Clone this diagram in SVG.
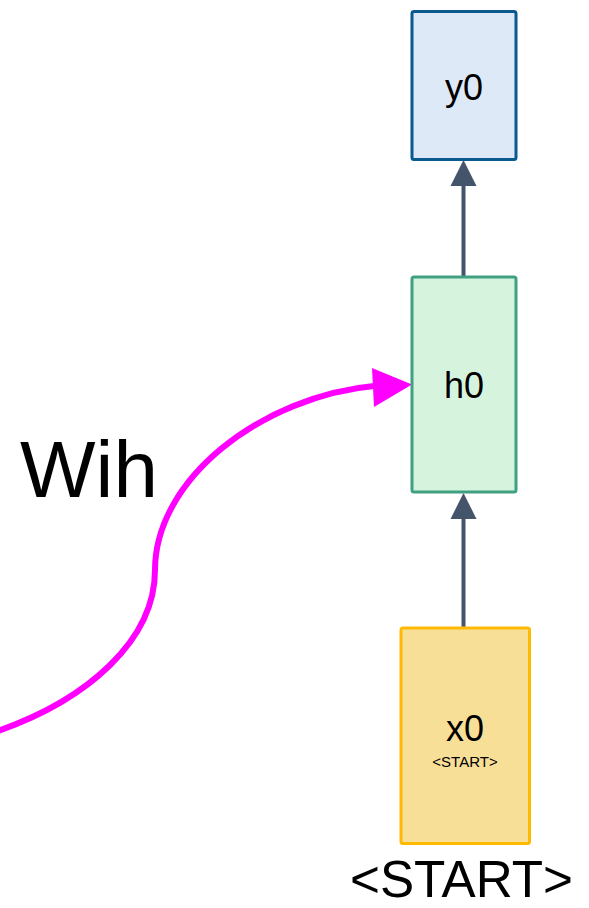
<svg xmlns="http://www.w3.org/2000/svg" width="589" height="908" viewBox="0 0 589 908">
<style>
text{font-family:"Liberation Sans",Arial,sans-serif;fill:#000;text-anchor:middle}
.lbl{font-size:36px}
.dark{stroke:#44546a;stroke-width:4;fill:none}
</style>
<rect width="589" height="908" fill="#fff"/>
<g id="connectors">
<line class="dark" x1="463.5" y1="277" x2="463.5" y2="184"/>
<polygon points="463.5,160 450.5,186 476.5,186" fill="#44546a"/>
<line class="dark" x1="463.5" y1="627" x2="463.5" y2="516"/>
<polygon points="463.5,493 450.5,519 476.5,519" fill="#44546a"/>
<path d="M -5 732 C 88 700 155 640 155 570 C 155 480 260 396 378 385.5" fill="none" stroke="#ff00ff" stroke-width="6"/>
<polygon points="412,384.5 372,368 374,407" fill="#ff00ff"/>
</g>
<g id="y0">
<rect x="412" y="11.5" width="104" height="148" rx="2" fill="#dde9f6" stroke="#0b5a8e" stroke-width="3"/>
<text class="lbl" x="464" y="100">y0</text>
</g>
<g id="h0">
<rect x="412" y="277" width="104" height="215" rx="2" fill="#d6f4dd" stroke="#3fa082" stroke-width="3"/>
<text class="lbl" x="464" y="398">h0</text>
</g>
<g id="x0">
<rect x="401" y="628" width="128.5" height="215.5" rx="2" fill="#f8df98" stroke="#ffb900" stroke-width="3"/>
<text class="lbl" x="465" y="741">x0</text>
<text x="465" y="767" font-size="15">&lt;START&gt;</text>
</g>
<text x="461.5" y="897" font-size="52" textLength="223" lengthAdjust="spacingAndGlyphs">&lt;START&gt;</text>
<text x="89" y="497" font-size="80">Wih</text>
</svg>
